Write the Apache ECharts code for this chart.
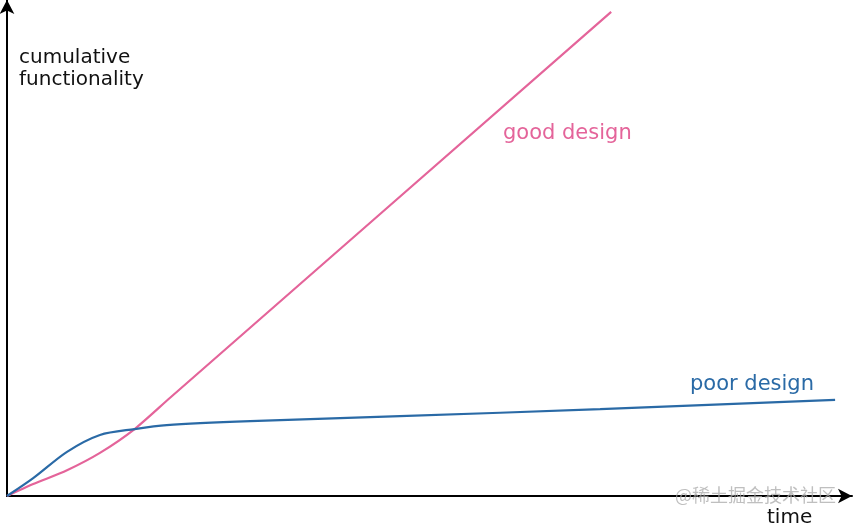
<!DOCTYPE html>
<html><head><meta charset="utf-8">
<script src="https://cdn.jsdelivr.net/npm/echarts@6/dist/echarts.min.js"></script>
<style>html,body{margin:0;padding:0;background:#fff}#c{width:854px;height:526px}</style>
</head><body><div id="c"></div>
<script>
// time (0-100) vs cumulative functionality (0-100)
const poorDesign = [[0,0],[3.1,3.6],[7.1,8.9],[11.0,12.3],[15.1,13.5],[18.9,14.3],[28.8,15.1],[46.5,16.1],[70.2,17.5],[98.0,19.4]];
const goodDesign = [[0,0],[3.1,2.4],[7.1,5.2],[11.0,8.7],[15.1,13.5],[19.3,19.8],[71.5,97.6]];
const axisNames = {x:'time', y:'cumulative\nfunctionality'};
const seriesNames = ['good design','poor design'];
const watermark = '@稀土掘金技术社区';

const chart = echarts.init(document.getElementById('c'));
const ff = '"DejaVu Sans", "Noto Sans", sans-serif';
chart.setOption({
  animation:false,
  grid:{left:7,right:2,top:0,bottom:30},
  xAxis:{type:'value',min:0,max:100,axisLine:{lineStyle:{color:'#000',width:2},symbol:['none','arrow'],symbolSize:[11,14]},axisTick:{show:false},axisLabel:{show:false},splitLine:{show:false}},
  yAxis:{type:'value',min:0,max:100,axisLine:{show:true,lineStyle:{color:'#000',width:2},symbol:['none','arrow'],symbolSize:[11,14]},axisTick:{show:false},axisLabel:{show:false},splitLine:{show:false}},
  series:[
    {name:seriesNames[0],type:'line',data:goodDesign,smooth:0.25,showSymbol:false,lineStyle:{color:'#e4649a',width:2.2},z:2},
    {name:seriesNames[1],type:'line',data:poorDesign,smooth:0.3,showSymbol:false,lineStyle:{color:'#2a6aa6',width:2.2},z:3}
  ],
  graphic:[
    {type:'text',left:19,top:47,style:{text:axisNames.y,fontSize:20,fontFamily:ff,fill:'#111',lineHeight:22}},
    {type:'text',left:767,top:508,style:{text:axisNames.x,fontSize:20,fontFamily:ff,fill:'#111'}},
    {type:'text',left:503,top:123,style:{text:seriesNames[0],fontSize:21,fontFamily:ff,fill:'#e4649a'}},
    {type:'text',left:690,top:374,style:{text:seriesNames[1],fontSize:21,fontFamily:ff,fill:'#2a6aa6'}},
    {type:'text',left:675,top:486,z:100,style:{text:watermark,fontSize:18,fontFamily:'"Noto Sans CJK SC", sans-serif',fill:'rgba(170,170,170,0.75)'}}
  ]
});
</script></body></html>
